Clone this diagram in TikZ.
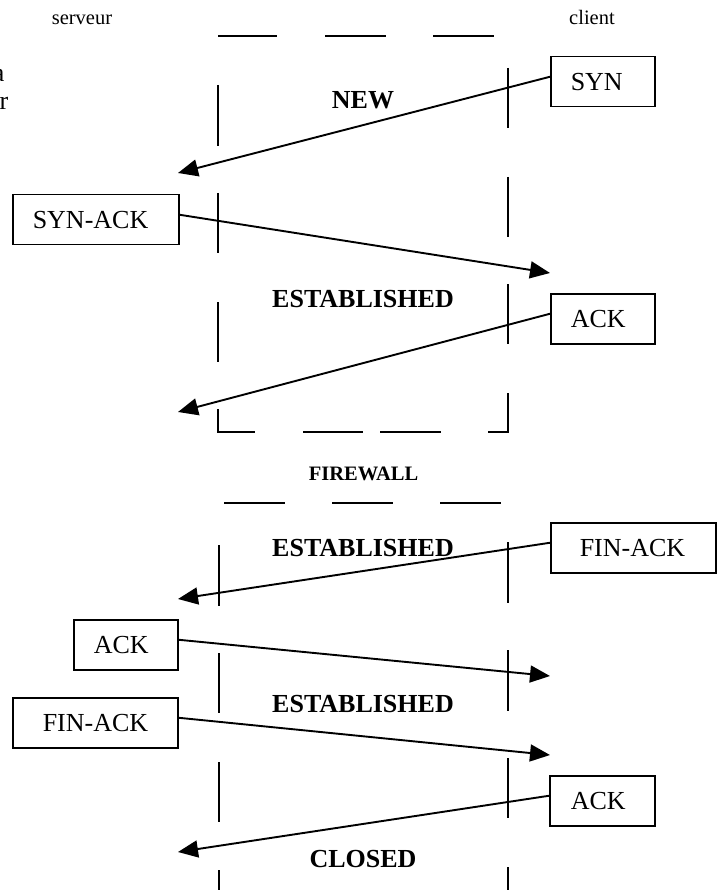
\documentclass[tikz,border=0pt]{standalone}
\usepackage{fontspec}
\setmainfont{Liberation Serif}
\usetikzlibrary{arrows.meta}
\tikzset{
  wall/.style={line width=2.4pt},
  msgbox/.style={draw, line width=1.5pt, anchor=north west, inner xsep=0pt,
    inner ysep=0pt, minimum height=50pt, align=left,
    font=\fontsize{26}{30}\selectfont},
  msg/.style={line width=1.9pt, -{Triangle[length=20pt,width=17pt]}},
  state/.style={anchor=base, inner sep=0pt, font=\fontsize{26}{30}\selectfont\bfseries},
  side/.style={anchor=base, inner sep=0pt, font=\fontsize{20.5}{24}\selectfont},
  cut/.style={anchor=base east, inner sep=0pt, font=\fontsize{26}{30}\selectfont}
}
\begin{document}
\begin{tikzpicture}[x=1pt,y=-1pt]
\useasboundingbox (0,0) rectangle (718,890);

% headings
\node[side] (srv) at (82,25) {serveur};
\node[side] (cli) at (592,25) {client};
\node[cut] (ca) at (4.5,82) {a};
\node[cut] (cr) at (8.5,110) {r};

% upper firewall frame
\foreach \a/\b in {218/277,325/386,433/494} \draw[wall] (\a,36) -- (\b,36);
\foreach \a/\b in {85/146,193/253,302/362} \draw[wall] (218,\a) -- (218,\b);
\foreach \a/\b in {68/128,177/237,284/344} \draw[wall] (508,\a) -- (508,\b);
\foreach \a/\b in {303/363,380/441} \draw[wall] (\a,432) -- (\b,432);
\draw[wall] (218,409) -- (218,432) -- (255,432);
\draw[wall] (488,432) -- (508,432) -- (508,393);

% lower firewall frame
\foreach \a/\b in {224/285,332/393,440/501} \draw[wall] (\a,503) -- (\b,503);
\foreach \a/\b in {545/606,653/713,762/822,870/900} \draw[wall] (219,\a) -- (219,\b);
\foreach \a/\b in {542/603,650/711,758/818,867/900} \draw[wall] (508,\a) -- (508,\b);

% state labels
\node[state] (snew) at (363,109) {NEW};
\node[state] (sest1) at (363,307) {ESTABLISHED};
\node[side, font=\fontsize{20.5}{24}\selectfont\bfseries] (fw) at (363.5,480) {FIREWALL};
\node[state] (sest2) at (363,556) {ESTABLISHED};
\node[state] (sest3) at (363,712) {ESTABLISHED};
\node[state] (sclo) at (363,867) {CLOSED};

% packets
\node[msgbox, text width=104pt] (syn)    at (550,56)  {\hspace*{20pt}SYN};
\node[msgbox, text width=166pt] (synack) at (12,194)  {\hspace*{20pt}SYN-ACK};
\node[msgbox, text width=104pt] (ack1)   at (550,293) {\hspace*{20pt}ACK};
\node[msgbox, text width=165pt] (fin1)   at (550,522) {\hspace*{29pt}FIN-ACK};
\node[msgbox, text width=104pt] (ack2)   at (73,619)  {\hspace*{20pt}ACK};
\node[msgbox, text width=165pt] (fin2)   at (12,697)  {\hspace*{30pt}FIN-ACK};
\node[msgbox, text width=105pt] (ack3)   at (549,775) {\hspace*{21pt}ACK};

% arrow ends
\coordinate (e1) at (178,173);
\coordinate (e2) at (550,273);
\coordinate (e3) at (178,412);
\coordinate (e4) at (178,599);
\coordinate (e5) at (550,676);
\coordinate (e6) at (550,755);
\coordinate (e7) at (178,852);

\draw[msg] ([yshift=5pt]syn.west) -- (e1);
\draw[msg] ([yshift=5pt]synack.east) -- (e2);
\draw[msg] ([yshift=5pt]ack1.west) -- (e3);
\draw[msg] ([yshift=5pt]fin1.west) -- (e4);
\draw[msg] ([yshift=5pt]ack2.east) -- (e5);
\draw[msg] ([yshift=5pt]fin2.east) -- (e6);
\draw[msg] ([yshift=5pt]ack3.west) -- (e7);
\end{tikzpicture}
\end{document}
